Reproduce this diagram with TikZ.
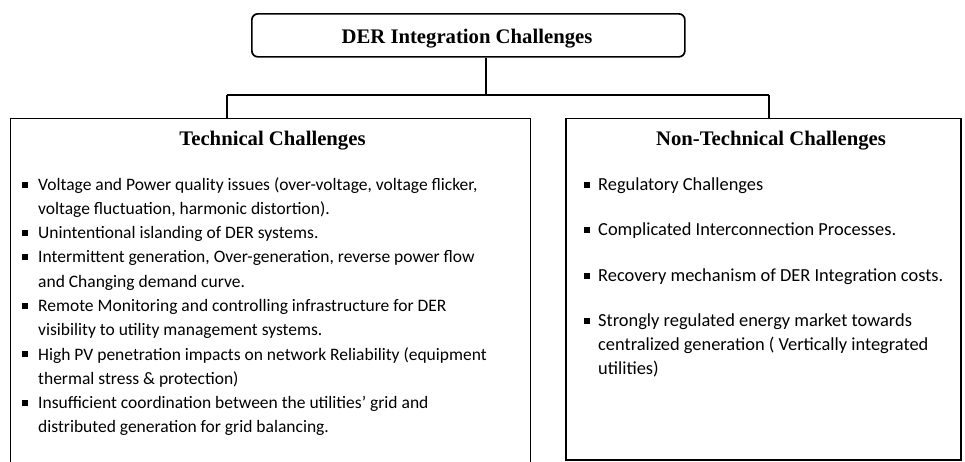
\documentclass[tikz,border=0pt]{standalone}
\usepackage{fontspec}
\setmainfont{Liberation Serif}
\newfontfamily\bodyfont{Carlito}
\begin{document}
\begin{tikzpicture}[x=1pt,y=-1pt,
  box/.style={draw, line width=1.7pt, inner sep=0pt, anchor=north west},
  title/.style={font=\fontsize{20.7}{23}\selectfont\bfseries, anchor=base, inner sep=0pt},
  item/.style={font=\bodyfont\fontsize{17.5}{20}\selectfont, anchor=base west, inner sep=0pt},
  ritem/.style={font=\bodyfont\fontsize{18.4}{20}\selectfont, anchor=base west, inner sep=0pt},
  sq/.style={fill=black, minimum size=6pt, inner sep=0pt},
  conn/.style={line width=1.7pt}]
\useasboundingbox (0,0) rectangle (965,461);
\clip (0,0) rectangle (965,461);
\fill[white] (0,0) rectangle (965,461);

% top box
\node[box, rounded corners=6pt, minimum width=433pt, minimum height=43pt] (top) at (251,13) {};
\node[title] (toptitle) at (467,43) {DER Integration Challenges};

% side boxes
\node[box, minimum width=520pt, minimum height=360pt] (left) at (9.5,117.5) {};
\node[box, minimum width=395pt, minimum height=341.5pt] (right) at (565,117.5) {};

% connectors
\coordinate (jm) at (486,95);
\coordinate (jl) at (227,95);
\coordinate (jr) at (769,95);
\draw[conn] (top.south -| jm) -- (jm);
\draw[conn] (jl) -- (jr);
\draw[conn] (jl) -- (jl |- left.north);
\draw[conn] (jr) -- (jr |- right.north);

% titles
\node[title] (lt) at (272.5,145) {Technical Challenges};
\node[title] (rt) at (771,145) {Non-Technical Challenges};

% left items
\node[sq] (b1) at (25,184.5) {};
\node[item] (l1a) at (38,190) {Voltage and Power quality issues (over-voltage, voltage flicker,};
\node[item] (l1b) at (38,214.3) {voltage fluctuation, harmonic distortion).};
\node[sq] (b2) at (25,232.8) {};
\node[item] (l2a) at (38,238.5) {Unintentional islanding of DER systems.};
\node[sq] (b3) at (25,257.1) {};
\node[item] (l3a) at (38,262.8) {Intermittent generation, Over-generation, reverse power flow};
\node[item] (l3b) at (38,287.1) {and Changing demand curve.};
\node[sq] (b4) at (25,305.7) {};
\node[item] (l4a) at (38,311.4) {Remote Monitoring and controlling infrastructure for DER};
\node[item] (l4b) at (38,335.7) {visibility to utility management systems.};
\node[sq] (b5) at (25,354.3) {};
\node[item] (l5a) at (38,360) {High PV penetration impacts on network Reliability (equipment};
\node[item] (l5b) at (38,384.3) {thermal stress \& protection)};
\node[sq] (b6) at (25,402.9) {};
\node[item] (l6a) at (38,408.6) {Insufficient coordination between the utilities’ grid and};
\node[item] (l6b) at (38,432.9) {distributed generation for grid balancing.};

% right items
\node[sq] (r1) at (587,184.5) {};
\node[ritem] (r1a) at (598,190) {Regulatory Challenges};
\node[sq] (r2) at (587,230.2) {};
\node[ritem] (r2a) at (598,235.7) {Complicated Interconnection Processes.};
\node[sq] (r3) at (587,275.5) {};
\node[ritem] (r3a) at (598,281) {Recovery mechanism of DER Integration costs.};
\node[sq] (r4) at (587,320.5) {};
\node[ritem] (r4a) at (598,326) {Strongly regulated energy market towards};
\node[ritem] (r4b) at (598,350.3) {centralized generation ( Vertically integrated};
\node[ritem] (r4c) at (598,374.6) {utilities)};
\end{tikzpicture}
\end{document}
